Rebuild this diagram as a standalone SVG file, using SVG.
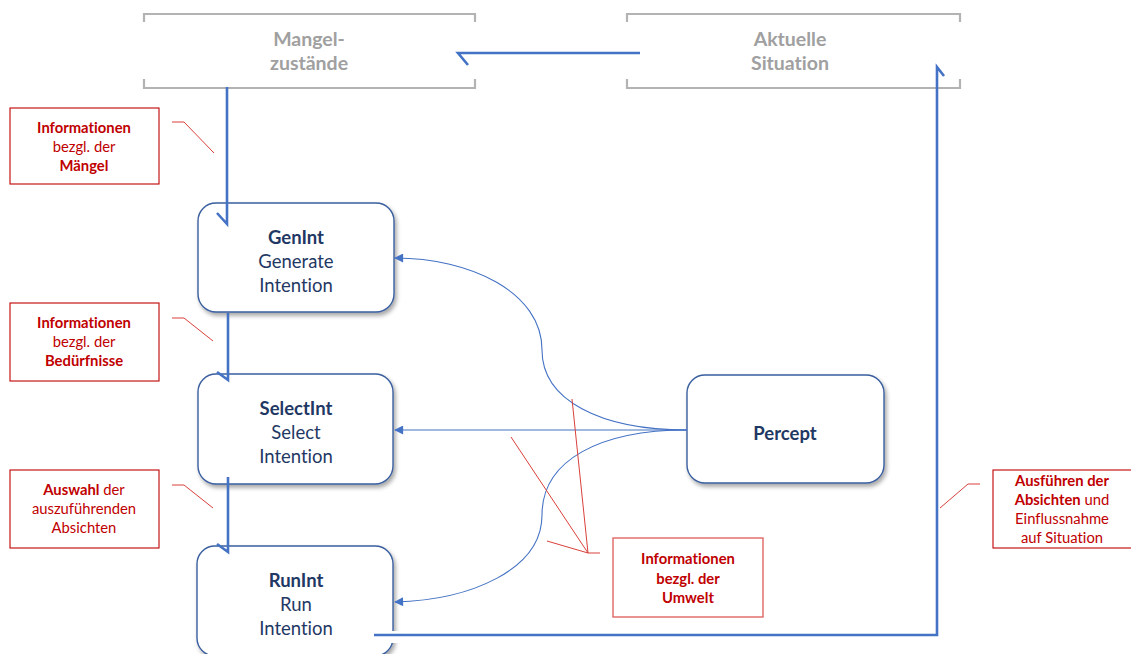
<svg xmlns="http://www.w3.org/2000/svg" width="1131" height="654" viewBox="0 0 1131 654">
  <defs>
    <filter id="shadow" x="-10%" y="-10%" width="125%" height="130%">
      <feDropShadow dx="2" dy="3" stdDeviation="2" flood-color="#000" flood-opacity="0.35"/>
    </filter>
    <marker id="tri" viewBox="0 0 10 10" refX="9" refY="5" markerWidth="10" markerHeight="9" markerUnits="userSpaceOnUse" orient="auto">
      <path d="M0,0 L10,5 L0,10 z" fill="#4472c4"/>
    </marker>
  </defs>
  <style>
    text { font-variant-ligatures: none; font-family: Lato, "Liberation Sans", sans-serif; }
    .frame { fill: none; stroke: #b3b3b3; stroke-width: 2.2; }
    .ftxt { font-weight: bold; font-size: 19.5px; fill: #a0a0a0; text-anchor: middle; }
    .node { fill: #fff; stroke: #3a5f9f; stroke-width: 1.4; filter: url(#shadow); }
    .ntxt { font-size: 18.5px; fill: #1f3864; text-anchor: middle; }
    .b { font-weight: bold; }
    .flow { fill: none; stroke: #4472c4; stroke-width: 2.6; }
    .link { fill: none; stroke: #4472c4; stroke-width: 1.1; marker-end: url(#tri); }
    .note { fill: #fff; stroke: #c00000; stroke-width: 1.1; }
    .note2 { fill: #fff; stroke: #e06666; stroke-width: 1.4; }
    .ntext { font-size: 14.8px; fill: #c00000; text-anchor: middle; }
    .lead { fill: none; stroke: #d9403a; stroke-width: 1; }
  </style>

  <!-- state frames -->
  <g id="mangelzustaende">
    <path class="frame" d="M144,22 V14 H475 V22 M144,79 V88 H475 V79"/>
    <text class="ftxt" x="309" y="46">Mangel-</text>
    <text class="ftxt" x="309" y="70">zustände</text>
  </g>
  <g id="aktuelle-situation">
    <path class="frame" d="M627,22 V14 H960 V22 M627,79 V88 H960 V79"/>
    <text class="ftxt" x="790" y="46">Aktuelle</text>
    <text class="ftxt" x="790" y="70">Situation</text>
  </g>

  <!-- process nodes -->
  <g id="genint">
    <rect class="node" x="198" y="203" width="196" height="109" rx="18"/>
    <text class="ntxt b" x="296" y="244">GenInt</text>
    <text class="ntxt" x="296" y="268">Generate</text>
    <text class="ntxt" x="296" y="292">Intention</text>
  </g>
  <g id="selectint">
    <rect class="node" x="198" y="374" width="195" height="110" rx="18"/>
    <text class="ntxt b" x="296" y="415">SelectInt</text>
    <text class="ntxt" x="296" y="439">Select</text>
    <text class="ntxt" x="296" y="463">Intention</text>
  </g>
  <g id="runint">
    <rect class="node" x="197" y="546" width="196" height="110" rx="18"/>
    <rect x="376" y="631" width="24" height="12" fill="#fff"/>
    <text class="ntxt b" x="296" y="587">RunInt</text>
    <text class="ntxt" x="296" y="611">Run</text>
    <text class="ntxt" x="296" y="635">Intention</text>
  </g>
  <g id="percept">
    <rect class="node" x="687" y="375" width="197" height="108" rx="18"/>
    <text class="ntxt b" x="785" y="440">Percept</text>
  </g>

  <!-- connectors -->
  <g id="connectors">
    <!-- main flow with open half-arrow heads -->
    <path class="flow" d="M640,53 H458 L468,65"/>
    <path class="flow" d="M227,87 V224 L217,213"/>
    <path class="flow" d="M228,313 V380 L217,372"/>
    <path class="flow" d="M228,477 V552 L217,544"/>
    <path class="flow" d="M374,635 H937 V67 L944,76"/>
    <!-- percept feeds -->
    <path class="link" d="M687,430 H395"/>
    <path class="link" d="M687,430 C600,430 542,400 542,350 C542,292 470,258 395,258"/>
    <path class="link" d="M687,430 C600,430 542,460 542,515 C542,570 470,600 395,602"/>
  </g>

  <!-- annotations -->
  <g id="note-maengel">
    <rect class="note" x="10" y="108" width="149" height="76"/>
    <text class="ntext b" x="84" y="133">Informationen</text>
    <text class="ntext" x="84" y="152">bezgl. der</text>
    <text class="ntext b" x="84" y="171">Mängel</text>
    <path class="lead" d="M172,122 H184 L214,153"/>
  </g>
  <g id="note-beduerfnisse">
    <rect class="note" x="10" y="303" width="149" height="78"/>
    <text class="ntext b" x="84" y="328">Informationen</text>
    <text class="ntext" x="84" y="347">bezgl. der</text>
    <text class="ntext b" x="84" y="366">Bedürfnisse</text>
    <path class="lead" d="M172,318 H184 L213,341"/>
  </g>
  <g id="note-auswahl">
    <rect class="note" x="10" y="470" width="149" height="78"/>
    <text class="ntext" x="84" y="495"><tspan class="b">Auswahl</tspan> der</text>
    <text class="ntext" x="84" y="514">auszuführenden</text>
    <text class="ntext" x="84" y="533">Absichten</text>
    <path class="lead" d="M172,485 H184 L213,508"/>
  </g>
  <g id="note-ausfuehren">
    <rect class="note" x="993" y="470" width="140" height="78"/>
    <text class="ntext b" x="1062" y="486">Ausführen der</text>
    <text class="ntext" x="1062" y="505"><tspan class="b">Absichten</tspan> und</text>
    <text class="ntext" x="1062" y="524">Einflussnahme</text>
    <text class="ntext" x="1062" y="543">auf Situation</text>
    <path class="lead" d="M980,484 H968 L940,508"/>
  </g>
  <g id="note-umwelt">
    <rect class="note2" x="613" y="538" width="150" height="79"/>
    <text class="ntext b" x="688" y="564">Informationen</text>
    <text class="ntext b" x="688" y="584">bezgl. der</text>
    <text class="ntext b" x="688" y="603">Umwelt</text>
    <path class="lead" d="M600,553 H588 L572,399 M588,553 L511,437 M588,553 L547,541"/>
  </g>
</svg>
